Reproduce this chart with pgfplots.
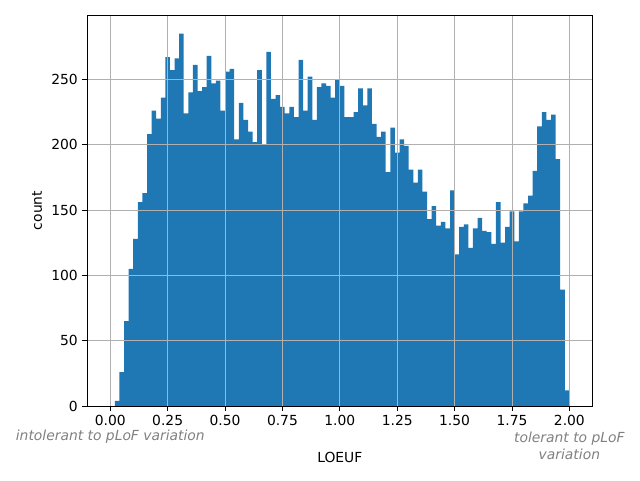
\documentclass[border=0pt]{standalone}
\usepackage{pgfplots}
\pgfplotsset{compat=1.18}
\usepackage{pgfplotstable}
\usepackage{fontspec}
\setmainfont{DejaVu Sans}

\definecolor{mplblue}{HTML}{1F77B4}
\definecolor{mplgrid}{HTML}{B0B0B0}

% histogram of LOEUF, bin edges 0.02 .. 2.00, width 0.02
\pgfplotstableread{
x y
0.02 4
0.04 26
0.06 65
0.08 105
0.10 128
0.12 156
0.14 163
0.16 208
0.18 226
0.20 220
0.22 236
0.24 267
0.26 257
0.28 266
0.30 285
0.32 224
0.34 240
0.36 261
0.38 241
0.40 244
0.42 268
0.44 247
0.46 249
0.48 226
0.50 256
0.52 258
0.54 204
0.56 232
0.58 219
0.60 210
0.62 202
0.64 257
0.66 200
0.68 271
0.70 235
0.72 238
0.74 229
0.76 224
0.78 229
0.80 221
0.82 265
0.84 226
0.86 252
0.88 219
0.90 244
0.92 247
0.94 245
0.96 236
0.98 250
1.00 245
1.02 221
1.04 221
1.06 225
1.08 243
1.10 230
1.12 243
1.14 216
1.16 206
1.18 210
1.20 179
1.22 213
1.24 194
1.26 204
1.28 199
1.30 181
1.32 171
1.34 181
1.36 164
1.38 143
1.40 153
1.42 138
1.44 141
1.46 136
1.48 165
1.50 116
1.52 137
1.54 139
1.56 121
1.58 136
1.60 144
1.62 134
1.64 133
1.66 124
1.68 156
1.70 125
1.72 137
1.74 149
1.76 126
1.78 149
1.80 155
1.82 161
1.84 180
1.86 214
1.88 225
1.90 219
1.92 223
1.94 189
1.96 89
1.98 12
2.00 0
}\loeuf

\begin{document}
\begin{tikzpicture}[font=\fontsize{10.4}{12.75}\selectfont]
\begin{axis}[
  at={(0,0)}, anchor=south west,
  scale only axis,
  width=378.75pt, height=293.25pt,
  xmin=-0.1, xmax=2.1, ymin=0, ymax=299.25,
  xtick={0,0.25,...,2.0},
  ytick={0,50,...,250},
  xticklabel style={/pgf/number format/.cd, fixed, fixed zerofill, precision=2},
  /pgf/number format/assume math mode=true,
  tick align=outside, tick pos=left,
  major tick length=3.65pt,
  every tick/.style={black, line width=0.6pt},
  axis line style={line width=0.6pt},
  grid=major,
  major grid style={mplgrid, line width=0.6pt},
  axis on top,
  xlabel={LOEUF}, ylabel={count},
  xlabel style={at={(axis description cs:0.5,0)}, anchor=center, yshift=-38.25pt},
  ylabel style={at={(axis description cs:-0.0995,0.5)}, anchor=center},
  clip=false,
]
\addplot[ybar interval, fill=mplblue, draw=none] table[x=x, y=y] {\loeuf};
\node[text=gray, font=\fontsize{10.4}{12.75}\selectfont\itshape, anchor=center]
  at (axis cs:0,0) [yshift=-23.25pt] {intolerant to pLoF variation};
\node[text=gray, font=\fontsize{10.4}{12.75}\selectfont\itshape, anchor=center, align=center]
  at (axis cs:2,0) [yshift=-29.6pt] {tolerant to pLoF\\variation};
\end{axis}
\path[use as bounding box] (-65.5pt,-55.5pt) rectangle (414.5pt,304.5pt);
\end{tikzpicture}
\end{document}
